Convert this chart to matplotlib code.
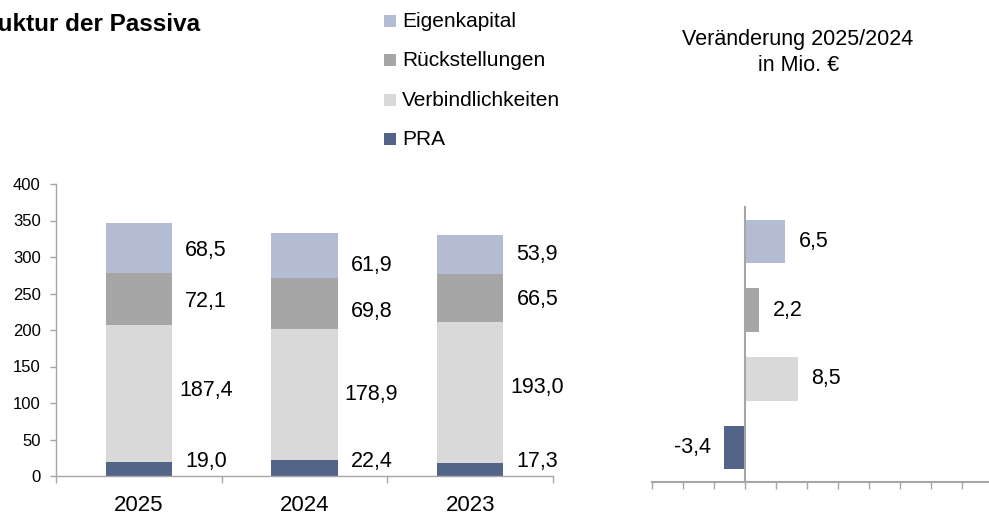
import matplotlib
matplotlib.use('Agg')
import matplotlib.pyplot as plt
from matplotlib.patches import Rectangle
import numpy as np

plt.rcParams['font.family'] = ['Liberation Sans', 'DejaVu Sans']

# ---------------- data ----------------
years = ['2025', '2024', '2023']
pra = [19.0, 22.4, 17.3]
verbindlichkeiten = [187.4, 178.9, 193.0]
rueckstellungen = [72.1, 69.8, 66.5]
eigenkapital = [68.5, 61.9, 53.9]
series_names = ['PRA', 'Verbindlichkeiten', 'Rückstellungen', 'Eigenkapital']
y_ticks = [0, 50, 100, 150, 200, 250, 300, 350, 400]

change_names = ['PRA', 'Verbindlichkeiten', 'Rückstellungen', 'Eigenkapital']
change_values = [-3.4, 8.5, 2.2, 6.5]

colors = {'PRA': '#536489', 'Verbindlichkeiten': '#d9d9d9',
          'Rückstellungen': '#a6a6a6', 'Eigenkapital': '#b4bcd3'}

title_left = 'Struktur der Passiva'
title_right = ['Veränderung 2025/2024', 'in Mio. €']

# small vertical nudges (points) of the value labels, per series and year
label_nudge = {'Eigenkapital': [-2, -7, 0], 'Rückstellungen': [-2, -6, -1],
               'Verbindlichkeiten': [2, 0, 4], 'PRA': [0, 0, 0]}


def fmt(v):
    return f'{v:.1f}'.replace('.', ',')


W, H = 989, 516
fig = plt.figure(figsize=(W / 100, H / 100), dpi=100)
AXC = '#a6a6a6'

# ---------------- left: stacked bars ----------------
ax1 = fig.add_axes([56 / W, (H - 476) / H, 497 / W, 292 / H])
x = np.arange(len(years))
stack = [pra, verbindlichkeiten, rueckstellungen, eigenkapital]
bottom = np.zeros(len(years))
for name, vals in zip(series_names, stack):
    vals = np.array(vals)
    ax1.bar(x, vals, width=0.4, bottom=bottom, color=colors[name], edgecolor='none')
    for i, v in enumerate(vals):
        ypos = 20 if name == 'PRA' else bottom[i] + v / 2
        ax1.annotate(fmt(v), (x[i] + 0.405, ypos), xytext=(0, label_nudge[name][i]),
                     textcoords='offset points', ha='center', va='center', fontsize=15.5)
    bottom = bottom + vals

ax1.set_xlim(-0.5, 2.5)
ax1.set_ylim(0, 400)
ax1.set_yticks(y_ticks)
ax1.set_xticks(x)
ax1.set_xticklabels(years, fontsize=16)
ax1.set_xticks([-0.5, 0.5, 1.5, 2.5], minor=True)
ax1.tick_params(axis='x', which='major', length=0, pad=14)
ax1.tick_params(axis='x', which='minor', length=5, color=AXC, width=1)
ax1.tick_params(axis='y', length=4, color=AXC, width=1, labelsize=12, pad=7)
for s in ['top', 'right']:
    ax1.spines[s].set_visible(False)
for s in ['left', 'bottom']:
    ax1.spines[s].set_color(AXC)
    ax1.spines[s].set_linewidth(1)

# ---------------- right: change bars ----------------
ax2 = fig.add_axes([652 / W, (H - 482) / H, 341 / W, 275 / H])
yy = np.arange(len(change_names))
ax2.barh(yy, change_values, height=0.63,
         color=[colors[n] for n in change_names], edgecolor='none')
for yi, v in zip(yy, change_values):
    if v >= 0:
        ax2.annotate(fmt(v), (v, yi), xytext=(10, 0), textcoords='offset points',
                     ha='left', va='center', fontsize=15.5)
    else:
        ax2.annotate(fmt(v), (v, yi), xytext=(-9, 0), textcoords='offset points',
                     ha='right', va='center', fontsize=15.5)
ax2.set_xlim(-15, 40)
ax2.set_ylim(-0.5, 3.5)
ax2.set_xticks(np.arange(-15, 41, 5))
ax2.set_xticklabels([])
ax2.set_yticks([])
ax2.tick_params(axis='x', length=5, color=AXC, width=1)
ax2.spines['left'].set_position(('data', 0))
for s in ['top', 'right']:
    ax2.spines[s].set_visible(False)
for s in ['left', 'bottom']:
    ax2.spines[s].set_color(AXC)
    ax2.spines[s].set_linewidth(1.5)

# ---------------- legend ----------------
legend_order = ['Eigenkapital', 'Rückstellungen', 'Verbindlichkeiten', 'PRA']
for k, name in enumerate(legend_order):
    base = 27 + k * 39.3
    fig.add_artist(Rectangle((384 / W, 1 - base / H), 12 / W, 12 / H,
                             transform=fig.transFigure, color=colors[name], lw=0))
    fig.text(402 / W, 1 - base / H, name, ha='left', va='baseline', fontsize=15)

# ---------------- titles ----------------
fig.text(200 / W, 1 - 31 / H, title_left, ha='right', va='baseline',
         fontsize=17.5, fontweight='bold')
fig.text(798 / W, 1 - 45 / H, title_right[0], ha='center', va='baseline', fontsize=15.5)
fig.text(799 / W, 1 - 71 / H, title_right[1], ha='center', va='baseline', fontsize=15.5)

fig.savefig('out.png', dpi=100)
